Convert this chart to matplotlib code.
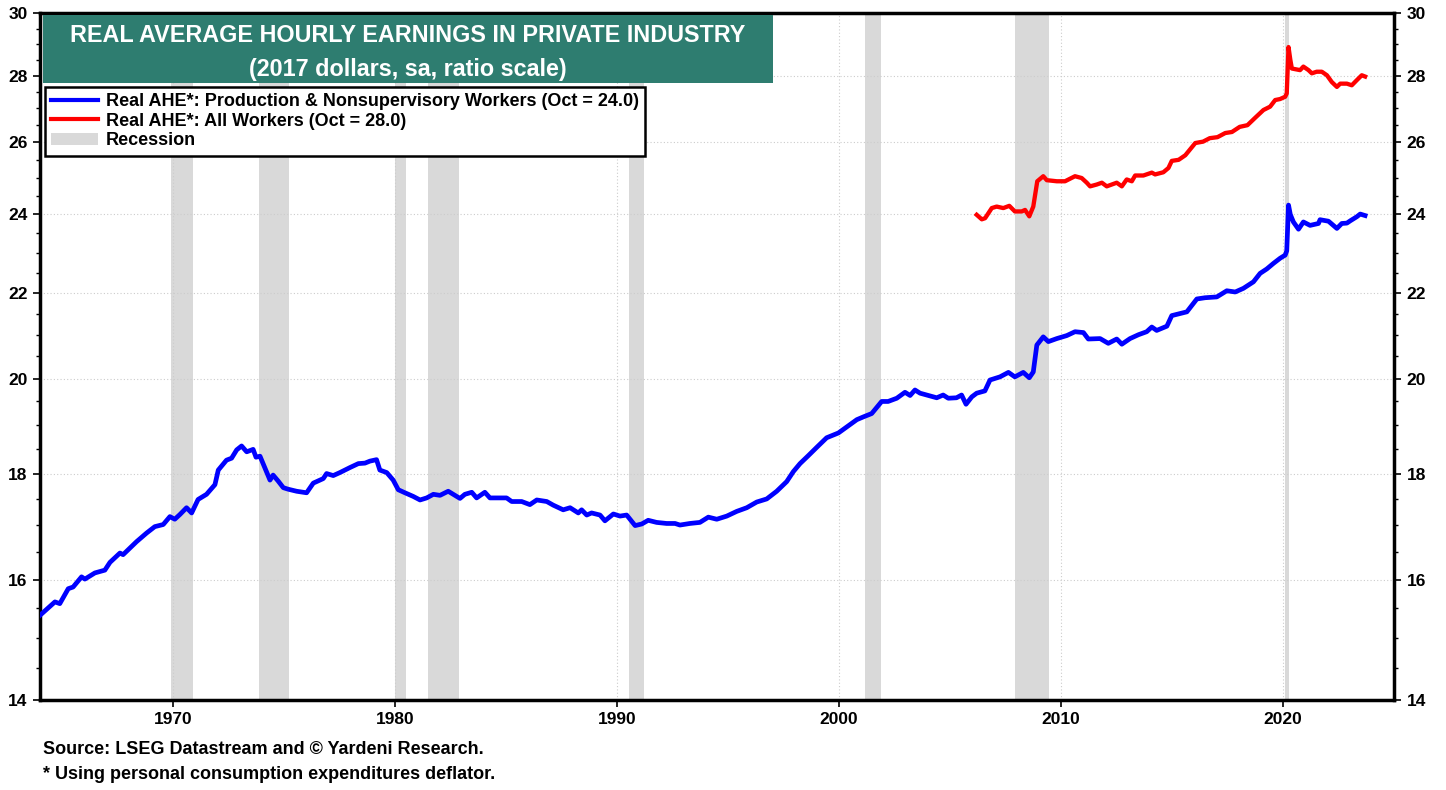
import numpy as np
import matplotlib
matplotlib.use('Agg')
import matplotlib.pyplot as plt
from matplotlib.patches import Rectangle, Patch
from matplotlib.lines import Line2D
from matplotlib.ticker import FixedLocator, NullFormatter, FuncFormatter

plt.rcParams['font.family'] = ['Liberation Sans', 'DejaVu Sans']
plt.rcParams['font.weight'] = 'bold'

# Production & nonsupervisory workers (fractional year, 2017 dollars)
prod_years = [1964.0, 1964.67, 1964.89, 1965.27, 1965.49, 1965.87, 1966.02, 1966.47, 1966.92, 1967.15,
              1967.6, 1967.74, 1968.35, 1968.8, 1969.17, 1969.55, 1969.85, 1970.07, 1970.3, 1970.6,
              1970.83, 1971.12, 1971.5, 1971.88, 1972.03, 1972.4, 1972.63, 1972.86, 1973.08, 1973.31,
              1973.6, 1973.73, 1973.91, 1974.05, 1974.36, 1974.5, 1974.73, 1974.96, 1975.18, 1975.56,
              1976.01, 1976.31, 1976.76, 1976.91, 1977.21, 1977.51, 1977.96, 1978.34, 1978.64, 1978.86,
              1979.16, 1979.31, 1979.62, 1979.91, 1980.14, 1980.44, 1980.81, 1981.12, 1981.42, 1981.72,
              1982.02, 1982.39, 1982.62, 1982.92, 1983.14, 1983.45, 1983.67, 1984.04, 1984.27, 1984.72,
              1985.02, 1985.25, 1985.7, 1986.07, 1986.38, 1986.83, 1987.12, 1987.57, 1987.88, 1988.25,
              1988.4, 1988.63, 1988.85, 1989.23, 1989.45, 1989.83, 1990.13, 1990.43, 1990.81, 1991.11,
              1991.4, 1991.78, 1992.23, 1992.61, 1992.83, 1993.28, 1993.73, 1994.11, 1994.49, 1994.94,
              1995.39, 1995.84, 1996.29, 1996.74, 1997.19, 1997.64, 1997.94, 1998.24, 1998.61, 1998.99,
              1999.44, 1999.97, 2000.8, 2001.1, 2001.47, 2001.92, 2002.21, 2002.6, 2002.97, 2003.2,
              2003.42, 2003.65, 2003.95, 2004.4, 2004.69, 2004.92, 2005.29, 2005.52, 2005.72, 2005.98,
              2006.2, 2006.57, 2006.8, 2007.25, 2007.63, 2007.92, 2008.3, 2008.57, 2008.75, 2008.91,
              2009.2, 2009.43, 2009.81, 2010.26, 2010.63, 2011.01, 2011.23, 2011.76, 2012.13, 2012.51,
              2012.74, 2013.11, 2013.49, 2013.86, 2014.09, 2014.31, 2014.77, 2014.99, 2015.36, 2015.67,
              2016.12, 2016.49, 2017.02, 2017.47, 2017.85, 2018.22, 2018.67, 2018.97, 2019.27, 2019.57,
              2019.87, 2020.1, 2020.17, 2020.25, 2020.33, 2020.47, 2020.7, 2020.92, 2021.22, 2021.6,
              2021.67, 2022.05, 2022.27, 2022.43, 2022.65, 2022.88, 2023.03, 2023.33, 2023.48, 2023.7]
prod_vals = [15.38, 15.61, 15.58, 15.84, 15.87, 16.05, 16.01, 16.12, 16.17, 16.31,
             16.48, 16.45, 16.69, 16.85, 16.97, 17.01, 17.16, 17.11, 17.2, 17.33,
             17.23, 17.49, 17.59, 17.78, 18.07, 18.27, 18.31, 18.48, 18.56, 18.44,
             18.49, 18.33, 18.35, 18.2, 17.87, 17.97, 17.85, 17.72, 17.69, 17.65,
             17.62, 17.81, 17.9, 18.0, 17.96, 18.02, 18.12, 18.2, 18.21, 18.25,
             18.28, 18.07, 18.02, 17.87, 17.68, 17.62, 17.55, 17.48, 17.52, 17.59,
             17.57, 17.65, 17.59, 17.51, 17.59, 17.63, 17.52, 17.63, 17.52, 17.52,
             17.52, 17.45, 17.45, 17.39, 17.48, 17.45, 17.38, 17.29, 17.33, 17.23,
             17.29, 17.19, 17.23, 17.19, 17.08, 17.21, 17.17, 17.19, 16.99, 17.02,
             17.09, 17.05, 17.03, 17.03, 17.0, 17.03, 17.05, 17.15, 17.11, 17.17,
             17.26, 17.33, 17.44, 17.5, 17.65, 17.84, 18.04, 18.2, 18.36, 18.53,
             18.73, 18.83, 19.11, 19.17, 19.24, 19.5, 19.5, 19.57, 19.7, 19.63,
             19.75, 19.68, 19.64, 19.58, 19.64, 19.57, 19.58, 19.64, 19.44, 19.6,
             19.68, 19.73, 19.97, 20.04, 20.14, 20.04, 20.14, 20.02, 20.15, 20.76,
             20.95, 20.84, 20.91, 20.98, 21.07, 21.05, 20.9, 20.91, 20.8, 20.9,
             20.78, 20.91, 21.0, 21.07, 21.18, 21.1, 21.2, 21.45, 21.5, 21.54,
             21.85, 21.88, 21.9, 22.05, 22.02, 22.11, 22.27, 22.48, 22.59, 22.73,
             22.86, 22.94, 23.05, 24.25, 24.0, 23.8, 23.61, 23.8, 23.71, 23.76,
             23.86, 23.82, 23.71, 23.63, 23.76, 23.77, 23.83, 23.94, 24.01, 23.97]

# All workers
all_years = [2006.2, 2006.43, 2006.58, 2006.88, 2007.1, 2007.4, 2007.67, 2007.92, 2008.23, 2008.38,
             2008.57, 2008.75, 2008.93, 2009.2, 2009.36, 2009.81, 2010.18, 2010.63, 2010.93, 2011.16,
             2011.31, 2011.61, 2011.84, 2012.06, 2012.51, 2012.74, 2012.96, 2013.19, 2013.34, 2013.71,
             2014.09, 2014.24, 2014.61, 2014.84, 2014.99, 2015.3, 2015.6, 2016.05, 2016.4, 2016.7,
             2017.05, 2017.4, 2017.7, 2018.05, 2018.4, 2018.75, 2019.12, 2019.42, 2019.65, 2019.87,
             2020.1, 2020.17, 2020.25, 2020.33, 2020.4, 2020.77, 2020.92, 2021.15, 2021.3, 2021.52,
             2021.75, 2021.98, 2022.2, 2022.43, 2022.58, 2022.88, 2023.1, 2023.33, 2023.55, 2023.7]
all_vals = [23.99, 23.87, 23.9, 24.17, 24.21, 24.17, 24.23, 24.08, 24.08, 24.12,
            23.95, 24.21, 24.9, 25.04, 24.93, 24.9, 24.9, 25.04, 24.99, 24.86,
            24.76, 24.81, 24.86, 24.76, 24.86, 24.76, 24.95, 24.9, 25.06, 25.06,
            25.14, 25.09, 25.15, 25.27, 25.47, 25.5, 25.63, 25.98, 26.02, 26.12,
            26.15, 26.27, 26.3, 26.45, 26.5, 26.72, 26.95, 27.05, 27.25, 27.28,
            27.35, 27.45, 28.9, 28.5, 28.22, 28.17, 28.28, 28.17, 28.07, 28.12,
            28.12, 28.01, 27.8, 27.65, 27.75, 27.75, 27.7, 27.86, 28.01, 27.97]

rec_start = [1969.92, 1973.87, 1980.0, 1981.5, 1990.54, 2001.17, 2007.92, 2020.08]
rec_end = [1970.87, 1975.2, 1980.5, 1982.87, 1991.2, 2001.87, 2009.46, 2020.25]

fig = plt.figure(figsize=(14.46, 7.9), dpi=100)
ax = fig.add_axes([0.0277, 0.114, 0.9363, 0.869])

for s, e in zip(rec_start, rec_end):
    ax.axvspan(s, e, color='#d9d9d9', lw=0, zorder=1)

ax.plot(prod_years, prod_vals, color='#0000ff', lw=3.4, zorder=3, solid_joinstyle='round')
ax.plot(all_years, all_vals, color='#ff0000', lw=3.1, zorder=3, solid_joinstyle='round')

ax.set_yscale('log')
ax.set_ylim(14, 30)
ax.set_xlim(1964, 2025)

ymaj = [14, 16, 18, 20, 22, 24, 26, 28, 30]
ax.yaxis.set_major_locator(FixedLocator(ymaj))
ax.yaxis.set_minor_locator(FixedLocator(list(np.arange(14, 30.01, 0.5))))
ax.yaxis.set_major_formatter(FuncFormatter(lambda v, p: '%d' % round(v)))
ax.yaxis.set_minor_formatter(NullFormatter())
ax.set_xticks([1970, 1980, 1990, 2000, 2010, 2020])

ax.grid(True, which='major', color='#cccccc', ls=(0, (1, 2)), lw=0.8, zorder=0)
ax.tick_params(axis='both', which='major', direction='out', length=5, width=1.2,
               labelsize=12.5, pad=4)
ax.tick_params(axis='y', which='both', left=True, right=True, labelleft=True, labelright=True)
ax.tick_params(axis='y', which='minor', direction='out', length=3, width=1)
ax.tick_params(axis='x', pad=4)
for lab in ax.get_xticklabels() + ax.get_yticklabels():
    lab.set_fontweight('bold')
for sp in ax.spines.values():
    sp.set_linewidth(2.5)

# title box
ax.add_patch(Rectangle((0.0022, 0.8985), 0.5391, 0.099, transform=ax.transAxes,
                       facecolor='#2e7d70', edgecolor='none', zorder=5))
ax.text(0.2717, 0.9685, 'REAL AVERAGE HOURLY EARNINGS IN PRIVATE INDUSTRY', transform=ax.transAxes,
        ha='center', va='center', color='white', fontsize=16.8, fontweight='bold', zorder=6)
ax.text(0.2717, 0.919, '(2017 dollars, sa, ratio scale)', transform=ax.transAxes,
        ha='center', va='center', color='white', fontsize=16.8, fontweight='bold', zorder=6)

handles = [Line2D([], [], color='#0000ff', lw=3),
           Line2D([], [], color='#ff0000', lw=3),
           Patch(facecolor='#d9d9d9', edgecolor='none')]
labels = ['Real AHE*: Production & Nonsupervisory Workers (Oct = 24.0)',
          'Real AHE*: All Workers (Oct = 28.0)',
          'Recession']
leg = ax.legend(handles, labels, loc='upper left', bbox_to_anchor=(0.0037, 0.893),
                frameon=True, fancybox=False, edgecolor='black', framealpha=1,
                prop={'weight': 'bold', 'size': 13}, handlelength=2.6, handletextpad=0.4,
                labelspacing=0.14, borderpad=0.35, borderaxespad=0)
leg.get_frame().set_linewidth(1.8)
leg.set_zorder(7)

fig.text(0.030, 0.046, 'Source: LSEG Datastream and \u00a9 Yardeni Research.', fontsize=13, fontweight='bold')
fig.text(0.030, 0.014, '* Using personal consumption expenditures deflator.', fontsize=13, fontweight='bold')

fig.savefig('out.png', dpi=100)
